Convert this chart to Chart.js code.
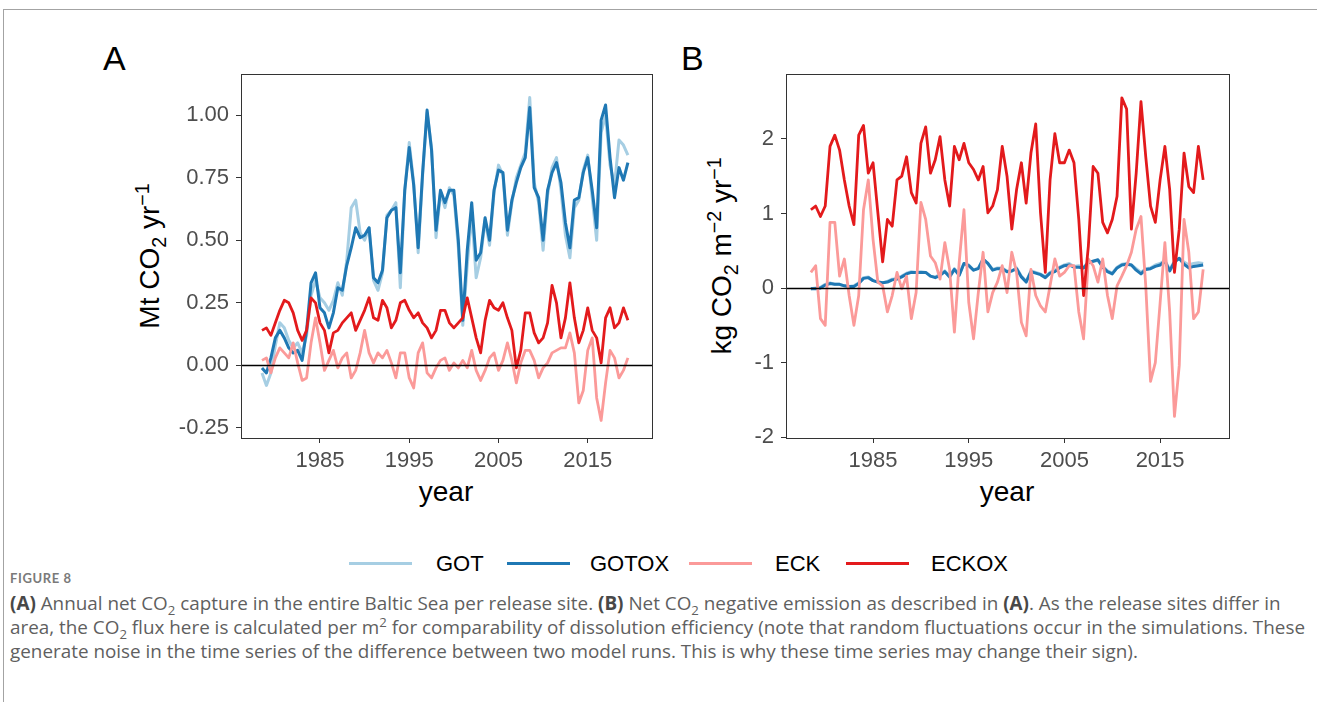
<!DOCTYPE html>
<html>
<head>
<meta charset="utf-8">
<script src="https://cdn.jsdelivr.net/npm/chart.js@4/dist/chart.umd.min.js"></script>
<style>
  html, body { margin: 0; padding: 0; background: #fff; }
  body { width: 1317px; height: 702px; position: relative; overflow: hidden; font-family: "Liberation Sans", Arial, sans-serif; }
  .frame { position: absolute; left: 3px; top: 9px; width: 1400px; height: 800px; border: 1px solid #a3a3a3; }
  .abs { position: absolute; white-space: nowrap; }
  .tag { font-size: 34px; line-height: 34px; color: #000; }
  .ytitle { font-size: 28px; line-height: 28px; color: #000; transform: translate(-50%, -50%) rotate(-90deg); }
  .xtitle { font-size: 28px; line-height: 28px; color: #000; transform: translate(-50%, -50%); }
  sub, sup { font-size: 0.7em; line-height: 0; }
  .key { position: absolute; height: 3px; width: 63px; }
  .ktext { position: absolute; font-size: 22px; line-height: 22px; color: #000; transform: translateY(-50%); }
  .figno { font-family: Lato, "Open Sans", sans-serif; font-size: 13px; font-weight: bold; color: #7a7a7a; letter-spacing: 0.6px; }
  .cap { font-family: "Open Sans", "Noto Sans", sans-serif; font-size: 17px; line-height: 17px; color: #5f5f5f; }
  .cap b { color: #484848; font-weight: 700; }
  canvas { position: absolute; }
</style>
</head>
<body>
<div class="frame"></div>

<div class="abs tag" style="left:103px; top:41px;">A</div>
<div class="abs tag" style="left:681px; top:41px;">B</div>

<div class="abs ytitle" style="left:150px; top:256px;">Mt CO<sub>2</sub> yr<sup>−1</sup></div>
<div class="abs ytitle" style="left:722px; top:256px;">kg CO<sub>2</sub> m<sup>−2</sup> yr<sup>−1</sup></div>
<div class="abs xtitle" style="left:446px; top:492px;">year</div>
<div class="abs xtitle" style="left:1007px; top:492px;">year</div>

<canvas id="chartA" width="500" height="430" style="left:170px; top:60px;"></canvas>
<canvas id="chartB" width="500" height="430" style="left:740px; top:60px;"></canvas>

<div class="key" style="left:349px; top:562px; background:#a6cee3;"></div>
<div class="ktext" style="left:436px; top:564px;">GOT</div>
<div class="key" style="left:507px; top:562px; background:#1f78b4;"></div>
<div class="ktext" style="left:590px; top:564px;">GOTOX</div>
<div class="key" style="left:689px; top:562px; background:#fb9a99;"></div>
<div class="ktext" style="left:775px; top:564px;">ECK</div>
<div class="key" style="left:846px; top:562px; background:#e31a1c;"></div>
<div class="ktext" style="left:931px; top:564px;">ECKOX</div>

<div class="abs figno" style="left:10px; top:570px;">FIGURE 8</div>
<div class="abs cap" style="left:10px; top:595px;"><b>(A)</b> Annual net CO<sub>2</sub> capture in the entire Baltic Sea per release site. <b>(B)</b> Net CO<sub>2</sub> negative emission as described in <b>(A)</b>. As the release sites differ in</div>
<div class="abs cap" id="capWide" style="left:10px; top:619px;">area, the CO<sub>2</sub> flux here is calculated per m<sup>2</sup> for comparability of dissolution efficiency (note that random fluctuations occur in the simulations. These</div>
<div class="abs cap" style="left:10px; top:643px;">generate noise in the time series of the difference between two model runs. This is why these time series may change their sign).</div>

<script>
// sampling times (years), shared by both panels
const years = [1978.5, 1979, 1979.5, 1980, 1980.5, 1981, 1981.5, 1982, 1982.5, 1983,
  1983.5, 1984, 1984.5, 1985, 1985.5, 1986, 1986.5, 1987, 1987.5, 1988,
  1988.5, 1989, 1989.5, 1990, 1990.5, 1991, 1991.5, 1992, 1992.5, 1993,
  1993.5, 1994, 1994.5, 1995, 1995.5, 1996, 1996.5, 1997, 1997.5, 1998,
  1998.5, 1999, 1999.5, 2000, 2000.5, 2001, 2001.5, 2002, 2002.5, 2003,
  2003.5, 2004, 2004.5, 2005, 2005.5, 2006, 2006.5, 2007, 2007.5, 2008,
  2008.5, 2009, 2009.5, 2010, 2010.5, 2011, 2011.5, 2012, 2012.5, 2013,
  2013.5, 2014, 2014.5, 2015, 2015.5, 2016, 2016.5, 2017, 2017.5, 2018,
  2018.5, 2019, 2019.5];

const xTicks = [1985, 1995, 2005, 2015];
const yTicksA = [-0.25, 0, 0.25, 0.5, 0.75, 1.0];
const yTicksB = [-2, -1, 0, 1, 2];

// Panel A: Mt CO2 per year
const gotA = [-0.03, -0.08, -0.03, 0.08, 0.17, 0.15, 0.10, 0.07, 0.09, 0.05,
  0.12, 0.28, 0.34, 0.27, 0.25, 0.22, 0.26, 0.33, 0.28, 0.42,
  0.63, 0.66, 0.53, 0.50, 0.55, 0.34, 0.30, 0.37, 0.60, 0.62,
  0.65, 0.31, 0.70, 0.89, 0.73, 0.45, 0.76, 1.01, 0.87, 0.51,
  0.69, 0.63, 0.71, 0.68, 0.47, 0.16, 0.40, 0.61, 0.35, 0.43,
  0.58, 0.48, 0.69, 0.80, 0.76, 0.52, 0.65, 0.75, 0.80, 0.85,
  1.07, 0.73, 0.65, 0.46, 0.68, 0.79, 0.83, 0.70, 0.52, 0.43,
  0.63, 0.66, 0.78, 0.84, 0.67, 0.50, 0.93, 1.00, 0.80, 0.72,
  0.90, 0.88, 0.84];
const gotoxA = [-0.01, -0.03, 0.03, 0.11, 0.14, 0.11, 0.07, 0.05, 0.06, 0.02,
  0.14, 0.33, 0.37, 0.23, 0.21, 0.15, 0.21, 0.31, 0.30, 0.40,
  0.47, 0.55, 0.51, 0.52, 0.55, 0.35, 0.33, 0.38, 0.59, 0.62,
  0.63, 0.37, 0.70, 0.87, 0.72, 0.47, 0.77, 1.02, 0.86, 0.54,
  0.70, 0.65, 0.70, 0.70, 0.50, 0.18, 0.46, 0.65, 0.42, 0.45,
  0.59, 0.50, 0.70, 0.78, 0.77, 0.54, 0.66, 0.73, 0.79, 0.83,
  1.03, 0.71, 0.67, 0.50, 0.70, 0.77, 0.81, 0.73, 0.57, 0.47,
  0.66, 0.67, 0.77, 0.83, 0.70, 0.55, 0.98, 1.04, 0.83, 0.67,
  0.79, 0.74, 0.81];
const eckA = [0.02, 0.03, -0.03, 0.03, 0.07, 0.05, 0.03, 0.09, 0.01, -0.06,
  -0.05, 0.09, 0.19, 0.09, -0.02, 0.02, 0.06, -0.01, 0.03, 0.05,
  -0.05, -0.02, 0.05, 0.14, 0.05, 0.01, 0.05, 0.03, 0.06, 0.01,
  -0.05, 0.05, 0.05, -0.05, -0.09, 0.05, 0.09, -0.03, -0.05, -0.01,
  0.02, 0.03, -0.02, 0.01, -0.01, 0.02, -0.01, 0.06, -0.02, -0.06,
  -0.02, 0.03, 0.05, -0.02, 0.02, 0.09, 0.02, -0.07, 0.01, 0.06,
  0.06, 0.02, -0.05, -0.01, 0.01, 0.05, 0.06, 0.07, 0.07, 0.13,
  0.05, -0.15, -0.10, 0.06, 0.11, -0.13, -0.22, -0.07, 0.06, 0.03,
  -0.05, -0.02, 0.03];
const eckoxA = [0.14, 0.15, 0.12, 0.17, 0.22, 0.26, 0.25, 0.21, 0.14, 0.10,
  0.14, 0.27, 0.25, 0.17, 0.14, 0.05, 0.13, 0.14, 0.17, 0.19,
  0.21, 0.14, 0.18, 0.22, 0.27, 0.19, 0.18, 0.26, 0.23, 0.15,
  0.18, 0.25, 0.26, 0.22, 0.19, 0.21, 0.17, 0.15, 0.11, 0.14,
  0.22, 0.22, 0.17, 0.15, 0.17, 0.19, 0.27, 0.19, 0.11, 0.05,
  0.18, 0.26, 0.23, 0.22, 0.25, 0.19, 0.14, -0.01, 0.06, 0.21,
  0.21, 0.13, 0.09, 0.11, 0.17, 0.32, 0.25, 0.11, 0.19, 0.33,
  0.19, 0.09, 0.14, 0.23, 0.14, 0.11, 0.01, 0.19, 0.23, 0.15,
  0.17, 0.23, 0.18];

// Panel B: kg CO2 per m2 per year
const gotB = [-0.01, 0.00, 0.01, 0.05, 0.07, 0.05, 0.05, 0.03, 0.02, 0.03,
  0.07, 0.14, 0.15, 0.10, 0.08, 0.07, 0.09, 0.12, 0.13, 0.16,
  0.20, 0.22, 0.21, 0.22, 0.21, 0.16, 0.15, 0.18, 0.23, 0.16,
  0.26, 0.18, 0.33, 0.31, 0.24, 0.27, 0.38, 0.33, 0.25, 0.27,
  0.27, 0.23, 0.23, 0.27, 0.16, 0.09, 0.23, 0.21, 0.19, 0.15,
  0.21, 0.24, 0.28, 0.31, 0.33, 0.29, 0.30, 0.28, 0.35, 0.36,
  0.37, 0.29, 0.23, 0.20, 0.28, 0.32, 0.33, 0.31, 0.26, 0.21,
  0.26, 0.27, 0.31, 0.33, 0.37, 0.25, 0.36, 0.39, 0.35, 0.31,
  0.33, 0.34, 0.33];
const gotoxB = [-0.01, -0.01, 0.00, 0.04, 0.06, 0.05, 0.05, 0.03, 0.02, 0.02,
  0.06, 0.13, 0.14, 0.10, 0.08, 0.07, 0.08, 0.11, 0.12, 0.15,
  0.19, 0.21, 0.21, 0.21, 0.21, 0.16, 0.14, 0.17, 0.22, 0.15,
  0.25, 0.17, 0.33, 0.30, 0.24, 0.26, 0.39, 0.33, 0.24, 0.26,
  0.26, 0.22, 0.23, 0.26, 0.15, 0.08, 0.22, 0.20, 0.18, 0.14,
  0.20, 0.22, 0.27, 0.30, 0.31, 0.28, 0.28, 0.27, 0.34, 0.36,
  0.38, 0.28, 0.22, 0.19, 0.27, 0.31, 0.32, 0.31, 0.24, 0.19,
  0.25, 0.26, 0.29, 0.31, 0.36, 0.23, 0.35, 0.40, 0.32, 0.27,
  0.29, 0.30, 0.31];
const eckB = [0.21, 0.30, -0.41, -0.50, 0.88, 0.88, 0.16, 0.39, -0.10, -0.50,
  -0.10, 1.05, 1.45, 0.65, 0.08, 0.03, -0.32, -0.10, 0.21, -0.01,
  0.16, -0.41, -0.06, 1.15, 0.92, 0.43, 0.34, 0.12, 0.61, 0.25,
  -0.59, 0.34, 1.05, -0.19, -0.68, -0.06, 0.48, -0.32, -0.06, 0.08,
  0.30, -0.06, 0.48, 0.21, -0.46, -0.64, 0.25, -0.10, -0.24, -0.32,
  0.03, 0.39, 0.16, 0.21, 0.30, 0.30, -0.32, -0.68, 0.39, 0.30,
  0.08, 0.39, -0.10, -0.41, 0.03, 0.16, 0.30, 0.48, 0.79, 0.96,
  0.03, -1.25, -1.00, -0.20, 0.61, -0.32, -1.72, -1.04, 0.92, 0.48,
  -0.41, -0.32, 0.25];
const eckoxB = [1.05, 1.10, 0.96, 1.10, 1.90, 2.05, 1.85, 1.45, 1.10, 0.85,
  2.05, 2.18, 1.54, 1.68, 1.01, 0.35, 0.92, 0.83, 1.45, 1.50,
  1.76, 1.28, 1.14, 1.94, 2.16, 1.54, 1.72, 2.03, 1.45, 1.10,
  1.90, 1.72, 1.94, 1.68, 1.59, 1.45, 1.63, 1.01, 1.10, 1.32,
  1.90, 1.50, 0.79, 1.32, 1.68, 1.14, 1.81, 2.20, 1.01, 0.21,
  1.45, 2.07, 1.68, 1.68, 1.85, 1.68, 0.92, -0.10, 0.56, 1.63,
  1.54, 0.88, 0.74, 0.92, 1.23, 2.55, 2.40, 0.79, 1.54, 2.50,
  1.76, 1.10, 0.88, 1.45, 1.90, 1.32, 0.21, 0.79, 1.81, 1.36,
  1.28, 1.90, 1.45];

const colors = { GOT: '#a6cee3', GOTOX: '#1f78b4', ECK: '#fb9a99', ECKOX: '#e31a1c' };

// panel border and the black zero line
const framePlugin = {
  id: 'frame',
  afterDatasetsDraw(chart) {
    const { ctx, chartArea: a } = chart;
    const y0 = Math.round(chart.scales.y.getPixelForValue(0)) + 0.5;
    ctx.save();
    ctx.strokeStyle = '#000';
    ctx.lineWidth = 1.3;
    ctx.beginPath();
    ctx.moveTo(a.left, y0);
    ctx.lineTo(a.right, y0);
    ctx.stroke();
    ctx.restore();
  },
  afterDraw(chart) {
    const { ctx, chartArea: a } = chart;
    ctx.save();
    ctx.strokeStyle = '#333';
    ctx.lineWidth = 1;
    ctx.strokeRect(Math.round(a.left) + 0.5, Math.round(a.top) + 0.5,
      Math.round(a.right - a.left), Math.round(a.bottom - a.top));
    ctx.restore();
  }
};

function makeDataset(name, values, order, width) {
  return {
    label: name,
    data: values,
    borderColor: colors[name],
    backgroundColor: colors[name],
    borderWidth: width,
    pointRadius: 0,
    tension: 0,
    borderJoinStyle: 'round',
    order: order
  };
}

function makePanel(id, series, yMin, yMax, yTicks, xMin, xMax, yAxisWidth, padRight, fmt) {
  const ctx = document.getElementById(id).getContext('2d');
  return new Chart(ctx, {
    type: 'line',
    data: {
      labels: years,
      datasets: [
        makeDataset('GOT', series[0], 4, 3),
        makeDataset('GOTOX', series[1], 3, 3),
        makeDataset('ECK', series[2], 2, 2.8),
        makeDataset('ECKOX', series[3], 1, 2.8)
      ]
    },
    options: {
      responsive: false,
      animation: false,
      layout: { padding: { top: 14, right: padRight, left: 0, bottom: 0 } },
      plugins: { legend: { display: false }, tooltip: { enabled: false } },
      scales: {
        x: {
          type: 'linear',
          min: xMin,
          max: xMax,
          afterBuildTicks: scale => { scale.ticks = xTicks.map(v => ({ value: v })); },
          afterFit: scale => {
            scale.height = 52;
            scale.paddingLeft = 0;
            scale.paddingRight = 0;
          },
          grid: { drawOnChartArea: false, drawTicks: true, tickLength: 5, color: '#333' },
          border: { display: false },
          ticks: {
            color: '#4d4d4d',
            padding: 5,
            maxRotation: 0,
            font: { family: '"Liberation Sans", Arial, sans-serif', size: 22 },
            callback: v => String(v)
          }
        },
        y: {
          type: 'linear',
          min: yMin,
          max: yMax,
          afterBuildTicks: scale => { scale.ticks = yTicks.map(v => ({ value: v })); },
          afterFit: scale => {
            scale.width = yAxisWidth;
            scale.paddingTop = 0;
            scale.paddingBottom = 0;
          },
          grid: { drawOnChartArea: false, drawTicks: true, tickLength: 5, color: '#333' },
          border: { display: false },
          ticks: {
            color: '#4d4d4d',
            padding: 7,
            font: { family: '"Liberation Sans", Arial, sans-serif', size: 22 },
            callback: fmt
          }
        }
      }
    },
    plugins: [framePlugin]
  });
}

makePanel('chartA', [gotA, gotoxA, eckA, eckoxA], -0.29, 1.164, yTicksA,
  1976.15, 2022.2, 71, 18, v => v.toFixed(2));
makePanel('chartB', [gotB, gotoxB, eckB, eckoxB], -2.01, 2.87, yTicksB,
  1975.9, 2022.2, 46, 11, v => String(v));

// caption: pick the font size that gives the longest line its printed width
const capWide = document.getElementById('capWide');
const natural = capWide.getBoundingClientRect().width;
const capSize = 17 * 1296 / natural;
document.querySelectorAll('.cap').forEach(el => { el.style.fontSize = capSize.toFixed(2) + 'px'; });
</script>
</body>
</html>
